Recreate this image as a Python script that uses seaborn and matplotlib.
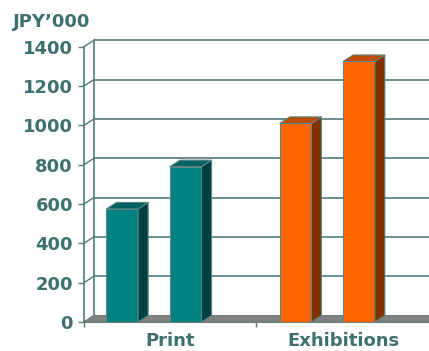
import matplotlib
matplotlib.use("Agg")
import matplotlib.pyplot as plt
import seaborn as sns
import pandas as pd
from matplotlib.patches import Polygon
from matplotlib.lines import Line2D

# ---- data ----
categories = ["Print", "Exhibitions"]
series = ["Series 1", "Series 2"]
print_values = [575, 790]
exhibition_values = [1010, 1325]
y_ticks = [0, 200, 400, 600, 800, 1000, 1200, 1400]
unit_label = "JPY\u2019000"

df = pd.DataFrame({
    "category": [categories[0]] * 2 + [categories[1]] * 2,
    "series": series + series,
    "value": print_values + exhibition_values,
})

# ---- style ----
sns.set_theme(style="white")
plt.rcParams["font.family"] = ["DejaVu Sans"]
TEXT = "#3e7070"
GRID = "#4f7c7c"
front_cols = {0: "#008080", 1: "#FF6600"}
side_cols = {0: "#004040", 1: "#803300"}
top_cols = {0: "#006262", 1: "#BF4D00"}

W, H = 429, 351
fig = plt.figure(figsize=(W / 100, H / 100), dpi=100)
ax_left_px, ax_right_px = 84, 429
ax_bottom_px, ax_top_px = H - 322, H - 46.7
ax = fig.add_axes([ax_left_px / W, ax_bottom_px / H,
                   (ax_right_px - ax_left_px) / W, (ax_top_px - ax_bottom_px) / H])

sns.barplot(data=df, x="category", y="value", hue="series", order=categories,
            width=0.732, gap=0.5, legend=False, ax=ax, saturation=1,
            edgecolor="#5c8585", linewidth=0.8, zorder=4)

x0_lim, x1_lim = -0.404, 1.587
y0_lim, y1_lim = 0, 1400
ax.set_xlim(x0_lim, x1_lim)
ax.set_ylim(y0_lim, y1_lim)

# depth offsets (pixels -> data)
px_x = (x1_lim - x0_lim) / (ax_right_px - ax_left_px)
px_y = (y1_lim - y0_lim) / (ax_top_px - ax_bottom_px)
ddx = 10 * px_x
ddy = 6.5 * px_y

# back wall gridlines & left wall diagonals
for t in y_ticks:
    ax.add_line(Line2D([x0_lim + ddx, x1_lim + 0.05], [t + ddy, t + ddy], color=GRID,
                       lw=1.2, zorder=0.5, clip_on=False))
    ax.add_line(Line2D([x0_lim, x0_lim + ddx], [t, t + ddy], color=GRID,
                       lw=1.0, zorder=0.5, clip_on=False))
ax.add_line(Line2D([x0_lim + ddx, x0_lim + ddx], [ddy, y_ticks[-1] + ddy], color=GRID,
                   lw=1.2, zorder=0.6, clip_on=False))

# floor
floor = Polygon([(x0_lim, 0), (x0_lim + ddx, ddy), (x1_lim + 0.05, ddy), (x1_lim + 0.05, 0)],
                closed=True, facecolor="#808080", edgecolor="#6e7e7e", lw=0.6,
                zorder=1, clip_on=False)
ax.add_patch(floor)

# 3D faces for bars
for p in list(ax.patches):
    if p is floor:
        continue
    x0 = p.get_x()
    w = p.get_width()
    h = p.get_height()
    cat = int(round(x0 + w / 2))
    p.set_facecolor(front_cols[cat])
    x1 = x0 + w
    side = Polygon([(x1, 0), (x1 + ddx, ddy), (x1 + ddx, h + ddy), (x1, h)], closed=True,
                   facecolor=side_cols[cat], edgecolor="#5c8585", lw=0.8, zorder=4)
    top = Polygon([(x0, h), (x0 + ddx, h + ddy), (x1 + ddx, h + ddy), (x1, h)], closed=True,
                  facecolor=top_cols[cat], edgecolor="#5c8585", lw=0.8, zorder=4)
    ax.add_patch(side)
    ax.add_patch(top)

# axes styling
for s in ["top", "right"]:
    ax.spines[s].set_visible(False)
ax.spines["left"].set_color(GRID)
ax.spines["left"].set_linewidth(1.2)
ax.spines["bottom"].set_color("#6e7e7e")
ax.spines["bottom"].set_linewidth(0.8)

ax.set_yticks(y_ticks)
ax.set_yticklabels([str(t) for t in y_ticks])
ax.tick_params(axis="y", length=4.5, width=1.0, color=GRID, pad=3.5,
               labelsize=13, labelcolor=TEXT, left=True)
for lab in ax.get_yticklabels():
    lab.set_fontweight("bold")

label_shift = 0.0925
ax.set_xticks([i + label_shift for i in range(len(categories))])
ax.set_xticklabels(categories)
ax.tick_params(axis="x", which="major", length=0, pad=7, labelsize=13, labelcolor=TEXT)
for lab in ax.get_xticklabels():
    lab.set_fontweight("bold")
ax.set_xticks([x0_lim, 0.589], minor=True)
ax.tick_params(axis="x", which="minor", length=3.5, width=1.0, color=GRID, bottom=True)

ax.set_xlabel("")
ax.set_ylabel("")

fig.text(13 / W, 1 - 13 / H, unit_label, ha="left", va="top", fontsize=13,
         fontweight="bold", color=TEXT)

fig.savefig("out.png", dpi=100)
